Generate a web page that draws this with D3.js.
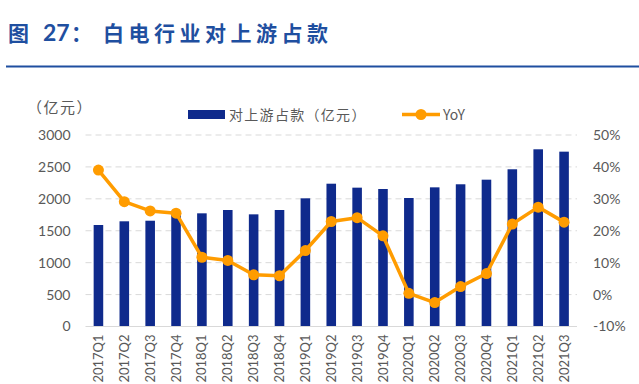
<!DOCTYPE html>
<html>
<head>
<meta charset="utf-8">
<script src="https://cdn.jsdelivr.net/npm/d3@7"></script>
<style>
  body { margin: 0; background: #fff; }
  svg { display: block; font-family: "Noto Sans CJK SC", "Noto Sans", sans-serif; }
</style>
</head>
<body>
<svg id="chart" width="639" height="384"></svg>
<script>
// 季度
const quarters = ["2017Q1","2017Q2","2017Q3","2017Q4","2018Q1","2018Q2","2018Q3","2018Q4",
  "2019Q1","2019Q2","2019Q3","2019Q4","2020Q1","2020Q2","2020Q3","2020Q4","2021Q1","2021Q2","2021Q3"];
// 对上游占款（亿元）
const amounts = [1590, 1648, 1657, 1760, 1773, 1825, 1757, 1825, 2008, 2237, 2175, 2154, 2013, 2180, 2228, 2300, 2463, 2776, 2739];
// YoY (%)
const yoy = [39.0, 29.1, 26.2, 25.5, 11.7, 10.7, 6.2, 5.9, 13.8, 22.9, 24.1, 18.4, 0.4, -2.5, 2.5, 6.6, 22.1, 27.4, 22.7];
const leftTicks = [0, 500, 1000, 1500, 2000, 2500, 3000];
const rightTicks = [-10, 0, 10, 20, 30, 40, 50];

const width = 639, height = 384;
const margin = {top: 135, right: 62, bottom: 57.5, left: 85.5};
const barColor = "#0f2a8c", lineColor = "#ff9c00", textColor = "#595959";

const svg = d3.select("#chart");

// 标题
const title = svg.append("text")
    .attr("y", 41)
    .attr("fill", "#1f4fa0")
    .attr("font-size", 21).attr("font-weight", "bold");
title.append("tspan").attr("x", 8).text("图");
title.append("tspan").attr("x", 43).attr("font-family", "Lato, 'Noto Sans', sans-serif")
    .attr("font-size", 23).text("27");
title.append("tspan").attr("x", 71).text("：");
title.append("tspan").attr("x", 103).attr("letter-spacing", 4.5).text("白电行业对上游占款");
svg.append("line")
    .attr("x1", 6).attr("x2", 639).attr("y1", 66.5).attr("y2", 66.5)
    .attr("stroke", "#1f4fa0").attr("stroke-width", 2);

const x = d3.scaleBand()
    .domain(quarters)
    .range([margin.left, width - margin.right])
    .paddingInner(0.63).paddingOuter(0.315);

const y = d3.scaleLinear()
    .domain([0, 3000])
    .range([height - margin.bottom, margin.top]);

const y2 = d3.scaleLinear()
    .domain([-10, 50])
    .range([height - margin.bottom, margin.top]);

// 网格线
svg.append("g")
    .selectAll("line")
    .data(leftTicks.filter(d => d > 0))
    .join("line")
      .attr("x1", margin.left).attr("x2", width - margin.right)
      .attr("y1", d => y(d)).attr("y2", d => y(d))
      .attr("stroke", "#d9d9d9").attr("stroke-dasharray", "6,4");

// 柱
svg.append("g")
    .attr("fill", barColor)
  .selectAll("rect")
  .data(quarters)
  .join("rect")
    .attr("x", (d, i) => x(d))
    .attr("y", (d, i) => y(amounts[i]))
    .attr("width", x.bandwidth())
    .attr("height", (d, i) => y(0) - y(amounts[i]));

// 底轴线
svg.append("line")
    .attr("x1", margin.left).attr("x2", width - margin.right)
    .attr("y1", y(0)).attr("y2", y(0))
    .attr("stroke", "#d9d9d9").attr("stroke-width", 1);

// 折线
const line = d3.line()
    .x((d, i) => x(quarters[i]) + x.bandwidth() / 2)
    .y(d => y2(d));

svg.append("path")
    .datum(yoy)
    .attr("fill", "none")
    .attr("stroke", lineColor)
    .attr("stroke-width", 3.5)
    .attr("stroke-linejoin", "round")
    .attr("d", line);

svg.append("g")
    .attr("fill", lineColor)
  .selectAll("circle")
  .data(yoy)
  .join("circle")
    .attr("cx", (d, i) => x(quarters[i]) + x.bandwidth() / 2)
    .attr("cy", d => y2(d))
    .attr("r", 5.5);

// 左轴
const yAxis = g => g
    .attr("transform", `translate(${margin.left - 15},0)`)
    .call(d3.axisLeft(y).tickValues(leftTicks).tickSize(0).tickPadding(0).tickFormat(d3.format("d")))
    .call(g => g.select(".domain").remove())
    .call(g => g.selectAll("text").attr("fill", textColor).attr("font-size", 14)
        .attr("font-family", "Lato, 'Noto Sans', sans-serif"));
svg.append("g").call(yAxis);

// 右轴
const yAxis2 = g => g
    .attr("transform", `translate(${width - margin.right + 16},0)`)
    .call(d3.axisRight(y2).tickValues(rightTicks).tickSize(0).tickPadding(0).tickFormat(d => d + "%"))
    .call(g => g.select(".domain").remove())
    .call(g => g.selectAll("text").attr("fill", textColor).attr("font-size", 14)
        .attr("font-family", "Lato, 'Noto Sans', sans-serif"));
svg.append("g").call(yAxis2);

// 横轴标签
const xAxis = g => g
    .attr("transform", `translate(0,${y(0) + 8})`)
    .call(d3.axisBottom(x).tickSize(0).tickPadding(0))
    .call(g => g.select(".domain").remove())
    .call(g => g.selectAll("text")
        .attr("fill", textColor).attr("font-size", 13)
        .attr("font-family", "Lato, 'Noto Sans', sans-serif")
        .attr("transform", "rotate(-90)")
        .attr("text-anchor", "end")
        .attr("dx", 0).attr("dy", "0.35em").attr("y", 0).attr("x", 0));
svg.append("g").call(xAxis);

// 单位
svg.append("text")
    .attr("x", 27).attr("y", 113)
    .attr("fill", textColor).attr("font-size", 15).attr("letter-spacing", 1.5)
    .text("（亿元）");

// 图例
svg.append("rect")
    .attr("x", 188).attr("y", 110).attr("width", 37).attr("height", 9)
    .attr("fill", barColor);
svg.append("text")
    .attr("x", 229).attr("y", 120)
    .attr("fill", textColor).attr("font-size", 14).attr("letter-spacing", 1.3)
    .text("对上游占款（亿元）");
svg.append("line")
    .attr("x1", 402).attr("x2", 440).attr("y1", 114.5).attr("y2", 114.5)
    .attr("stroke", lineColor).attr("stroke-width", 3.5);
svg.append("circle")
    .attr("cx", 421).attr("cy", 114.5).attr("r", 5.5).attr("fill", lineColor);
svg.append("text")
    .attr("x", 443).attr("y", 120)
    .attr("fill", textColor).attr("font-size", 14)
    .text("YoY");
</script>
</body>
</html>
